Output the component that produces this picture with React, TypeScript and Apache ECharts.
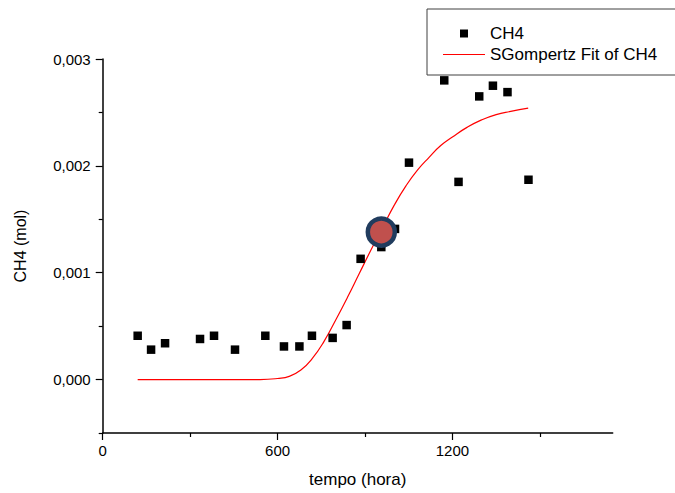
import React, { useEffect, useRef } from "react";
import * as echarts from "echarts";

// Observed data (CH4, mol) vs tempo (hora)
const tempo: number[] = [120, 166, 214, 334, 382, 454, 558, 622, 675, 718, 789, 837, 885, 956, 1003, 1051, 1172, 1221, 1292, 1339, 1389, 1461];
const ch4: number[] = [0.00041, 0.00028, 0.00034, 0.00038, 0.00041, 0.00028, 0.00041, 0.00031, 0.00031, 0.00041, 0.00039, 0.00051, 0.00113, 0.00124, 0.00141, 0.00203, 0.0028, 0.00185, 0.00265, 0.00275, 0.00269, 0.00187];

// Fit curve
const fitX: number[] = [120, 300, 450, 540, 600, 640, 680, 720, 760, 800, 840, 880, 920, 960, 1000, 1040, 1080, 1120, 1160, 1200, 1250, 1300, 1350, 1400, 1460];
const fitY: number[] = [0, 0, 0, 0, 0.00001, 0.00003, 0.00009, 0.0002, 0.00036, 0.00056, 0.00077, 0.00099, 0.00121, 0.00142, 0.00163, 0.00181, 0.00196, 0.00208, 0.00219, 0.00227, 0.00236, 0.00243, 0.00248, 0.00251, 0.00254];

// Highlighted point
const highlight: number[] = [956, 0.00138];

// Axis ticks
const xMajor: number[] = [0, 600, 1200];
const xMinor: number[] = [300, 900, 1500];
const yMajor: number[] = [0, 0.001, 0.002, 0.003];
const yMinor: number[] = [-0.0005, 0.0005, 0.0015, 0.0025];

const FONT = "'Liberation Sans', Arial, sans-serif";

export default function App() {
  const ref = useRef<HTMLDivElement>(null);
  useEffect(() => {
    if (!ref.current) return;
    const chart = echarts.init(ref.current, null, { renderer: "svg" });
    const grid = { left: 102.7, right: 62.3, top: 59, bottom: 58 };
    const xBase = { type: "value", min: 0, max: 1750, gridIndex: 0 };
    const yBase = { type: "value", min: -0.0005, max: 0.003, gridIndex: 0 };
    chart.setOption({
      animation: false,
      backgroundColor: "#ffffff",
      textStyle: { fontFamily: FONT },
      grid,
      legend: {
        orient: "vertical",
        left: 427,
        top: 9,
        data: [
          { name: "CH4", icon: "path://M0,0h1v1h-1z", itemStyle: { color: "#000000", opacity: 1 } },
          { name: "SGompertz Fit of CH4", icon: "path://M0,0h42v1h-42z", itemStyle: { color: "#ff0000", opacity: 1 } },
        ],
        itemWidth: 42,
        itemHeight: 8,
        itemGap: 4,
        padding: [16, 40, 12, 16],
        borderColor: "#404040",
        borderWidth: 1,
        textStyle: { fontFamily: FONT, fontSize: 17, color: "#000", lineHeight: 17 },
      },
      xAxis: [
        {
          ...xBase,
          name: "tempo (hora)",
          nameLocation: "middle",
          nameGap: 38,
          nameTextStyle: { fontFamily: FONT, fontSize: 17, color: "#000" },
          axisLine: { show: true, onZero: false, lineStyle: { color: "#000", width: 1.5 } },
          axisTick: { show: true, inside: false, length: 7, lineStyle: { color: "#000", width: 1.2 }, customValues: xMajor },
          axisLabel: { show: true, margin: 10, fontFamily: FONT, fontSize: 15, color: "#000", customValues: xMajor, formatter: (v: number) => String(v) },
          splitLine: { show: false },
        },
        {
          ...xBase,
          position: "bottom",
          axisLine: { show: false, onZero: false },
          axisTick: { show: true, inside: false, length: 4, lineStyle: { color: "#000", width: 1.2 }, customValues: xMinor },
          axisLabel: { show: false },
          splitLine: { show: false },
        },
      ],
      yAxis: [
        {
          ...yBase,
          name: "CH4 (mol)",
          nameLocation: "middle",
          nameGap: 74,
          nameTextStyle: { fontFamily: FONT, fontSize: 16, color: "#000" },
          axisLine: { show: true, onZero: false, lineStyle: { color: "#000", width: 1.5 } },
          axisTick: { show: true, inside: false, length: 7, lineStyle: { color: "#000", width: 1.2 }, customValues: yMajor },
          axisLabel: {
            show: true,
            margin: 12,
            fontFamily: FONT,
            fontSize: 15,
            color: "#000",
            customValues: yMajor,
            formatter: (v: number) => v.toFixed(3).replace(".", ","),
          },
          splitLine: { show: false },
        },
        {
          ...yBase,
          position: "left",
          axisLine: { show: false, onZero: false },
          axisTick: { show: true, inside: false, length: 4, lineStyle: { color: "#000", width: 1.2 }, customValues: yMinor },
          axisLabel: { show: false },
          splitLine: { show: false },
        },
      ],
      series: [
        {
          name: "SGompertz Fit of CH4",
          type: "line",
          xAxisIndex: 0,
          yAxisIndex: 0,
          data: fitX.map((x, i) => [x, fitY[i]]),
          smooth: 0.5,
          showSymbol: false,
          symbol: "none",
          lineStyle: { color: "#ff0000", width: 1.2 },
          itemStyle: { color: "#ff0000" },
          z: 2,
        },
        {
          name: "CH4",
          type: "scatter",
          xAxisIndex: 0,
          yAxisIndex: 0,
          data: tempo.map((x, i) => [x, ch4[i]]),
          symbol: "rect",
          symbolSize: 8.5,
          itemStyle: { color: "#000000", opacity: 1 },
          z: 3,
        },
        {
          name: "highlight",
          type: "scatter",
          xAxisIndex: 0,
          yAxisIndex: 0,
          data: [highlight],
          symbol: "circle",
          symbolSize: 27,
          itemStyle: { color: "#c0504d", borderColor: "#213c5e", borderWidth: 4.5, opacity: 1 },
          z: 5,
        },
      ],
    });
    return () => chart.dispose();
  }, []);
  return <div ref={ref} style={{ position: "absolute", left: 0, top: 0, width: 675, height: 493 }} />;
}
